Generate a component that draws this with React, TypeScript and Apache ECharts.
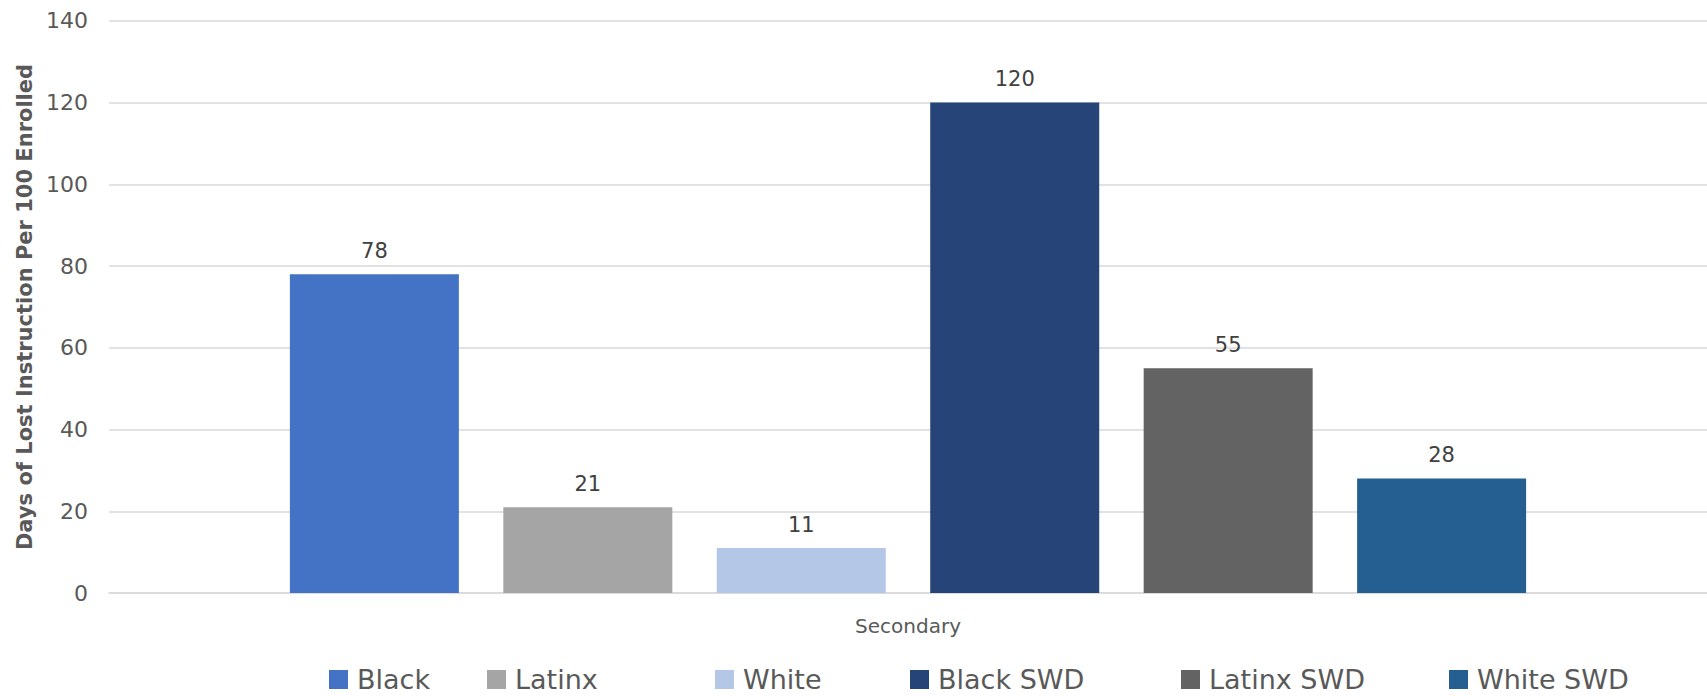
import React, { useEffect, useRef } from "react";
import * as echarts from "echarts";

const categories = ["Secondary"];
const seriesNames = ["Black", "Latinx", "White", "Black SWD", "Latinx SWD", "White SWD"];
const seriesValues = [78, 21, 11, 120, 55, 28];
const seriesColors = ["#4472C4", "#A5A5A5", "#B4C7E7", "#264478", "#636363", "#255E91"];
const legendLefts = [329, 487, 715, 910, 1181, 1449];
const yTitle = "Days of Lost Instruction Per 100 Enrolled";

const FONT = "DejaVu Sans";

export default function App() {
  const ref = useRef<HTMLDivElement>(null);
  useEffect(() => {
    if (!ref.current) return;
    const chart = echarts.init(ref.current, undefined, { renderer: "svg" });
    const option: any = {
      animation: false,
      backgroundColor: "#ffffff",
      textStyle: { fontFamily: FONT },
      grid: { left: 109, width: 1602, top: 20.75, bottom: 103, containLabel: false },
      legend: seriesNames.map((n, i) => ({
        data: [n],
        left: legendLefts[i],
        top: 666,
        itemWidth: 19,
        itemHeight: 19,
        itemGap: 0,
        icon: "rect",
        textStyle: { fontFamily: FONT, fontSize: 27, color: "#595959", padding: [0, 0, 0, 4] },
        padding: 0,
        selectedMode: false,
      })),
      xAxis: {
        type: "category",
        data: categories,
        axisLine: { show: true, lineStyle: { color: "#D9D9D9", width: 1.5 } },
        axisTick: { show: false },
        axisLabel: { fontFamily: FONT, fontSize: 20, color: "#595959", margin: 23 },
      },
      yAxis: {
        type: "value",
        min: 0,
        max: 140,
        interval: 20,
        axisLine: { show: false },
        axisTick: { show: false },
        axisLabel: { fontFamily: FONT, fontSize: 22, color: "#595959", margin: 21 },
        splitLine: { lineStyle: { color: "#D9D9D9", width: 1.5 } },
      },
      graphic: [
        {
          type: "text",
          x: 25,
          y: 307,
          rotation: Math.PI / 2,
          style: {
            text: yTitle,
            fontFamily: FONT,
            fontWeight: "bold",
            fontSize: 21,
            fill: "#595959",
            textAlign: "center",
            textVerticalAlign: "middle",
          },
        },
      ],
      series: seriesNames.map((n, i) => ({
        name: n,
        type: "bar",
        data: [seriesValues[i]],
        barWidth: 169,
        barGap: "26.3%",
        itemStyle: { color: seriesColors[i] },
        label: {
          show: true,
          position: "top",
          distance: 13,
          fontFamily: FONT,
          fontSize: 21,
          color: "#404040",
        },
      })),
    };
    chart.setOption(option);
    return () => chart.dispose();
  }, []);
  return (
    <div
      ref={ref}
      style={{ position: "fixed", left: 0, top: 0, width: 1707, height: 696, background: "#fff" }}
    />
  );
}
